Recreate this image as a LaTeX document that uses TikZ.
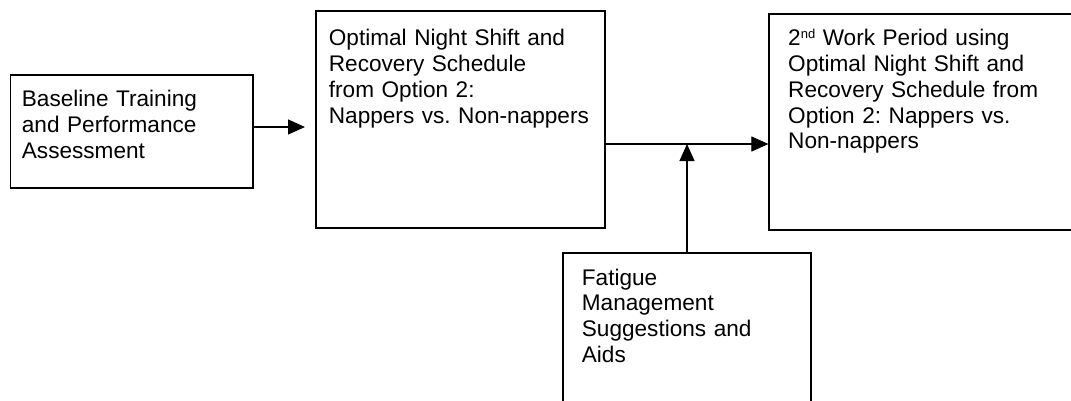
\documentclass[tikz,border=0pt]{standalone}
\usepackage{fontspec}
\setmainfont{Liberation Sans}
\usetikzlibrary{arrows.meta}
\frenchspacing
\tikzset{
  box/.style={draw=black, line width=1.2pt, inner sep=0pt, fill=none},
  txt/.style={inner sep=0pt, anchor=base west, text width=300pt, align=left,
              font=\fontsize{22.6}{25.8}\selectfont\frenchspacing},
  arr/.style={draw=black, line width=1.1pt, -{Triangle[length=17pt,width=15pt]}},
}
\begin{document}
\begin{tikzpicture}[x=1pt,y=-1pt]
\useasboundingbox (0,0) rectangle (1071,400);
% boxes
\node[box, minimum width=242.3pt, minimum height=113pt] (b1) at (131.85,131.5) {};
\node[box, minimum width=289pt, minimum height=217pt] (b2) at (460.5,119.5) {};
\node[box, minimum width=304pt, minimum height=216pt] (b3) at (921,122) {};
\node[box, minimum width=248pt, minimum height=150pt] (b4) at (687,328) {};
% texts
\node[txt] (t1) at (21.7,106.7) {Baseline Training\\and Performance\\Assessment};
\node[txt] (t2) at (328.7,45.7) {Optimal Night Shift and\\Recovery Schedule\\from Option 2:\\Nappers vs. Non-nappers};
\node[txt] (t3) at (788,45.7) {2\raisebox{7pt}{\fontsize{13}{13}\selectfont nd} Work Period using\\Optimal Night Shift and\\Recovery Schedule from\\Option 2: Nappers vs.\\Non-nappers};
\node[txt] (t4) at (581.7,285) {Fatigue\\Management\\Suggestions and\\Aids};
% connectors
\coordinate (a1) at (305,127);
\coordinate (j) at (687,144);
\draw[arr] (b1.east |- a1) -- (a1);
\draw[arr] (b2.east |- j) -- (b3.west |- j);
\draw[arr] (b4.north) -- (j);
\end{tikzpicture}
\end{document}
